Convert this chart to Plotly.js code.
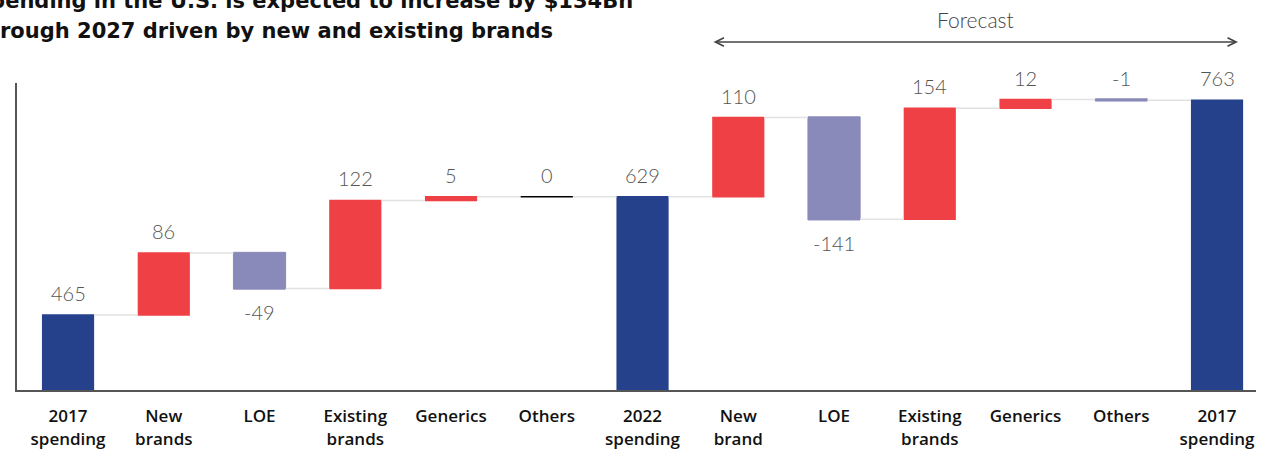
<!DOCTYPE html>
<html>
<head>
<meta charset="utf-8">
<script src="https://cdn.plot.ly/plotly-3.0.1.min.js"></script>
<style>
html,body{margin:0;padding:0;background:#fff;}
#chart{width:1278px;height:450px;}
</style>
</head>
<body>
<div id="chart"></div>
<script>
// ---- data ----
const categories = ["2017<br>spending", "New<br>brands", "LOE", "Existing<br>brands", "Generics", "Others",
                    "2022<br>spending", "New<br>brand", "LOE", "Existing<br>brands", "Generics", "Others", "2017<br>spending"];
const measures = ["absolute", "relative", "relative", "relative", "relative", "relative",
                  "total", "relative", "relative", "relative", "relative", "relative", "total"];
const values = [465, 86, -49, 122, 5, 0, 629, 110, -141, 154, 12, -1, 763];
const titleLines = ["Spending in the U.S. is expected to increase by $134Bn",
                    "through 2027 driven by new and existing brands"];
const forecastLabel = "Forecast";

// ---- layout constants ----
const W = 1278, H = 450;
const M = {l: 17, r: 22, t: 83, b: 60};
const plotW = W - M.l - M.r, plotH = H - M.t - M.b;
const px2paperX = px => (px - M.l) / plotW;
const px2paperY = py => (H - M.b - py) / plotH;
const barW = 0.545;

const xIdx = categories.map((_, i) => i);

// cumulative levels computed from data
let run = 0;
const tops = [], bottoms = [];
values.forEach((v, i) => {
  const m = measures[i];
  if (m === "absolute") { bottoms.push(0); run = v; tops.push(v); }
  else if (m === "total") { bottoms.push(0); tops.push(run); }
  else { const s = run; run += v; bottoms.push(Math.min(s, run)); tops.push(Math.max(s, run)); }
});

const labelFont = {family: "Lato, 'Open Sans', sans-serif", size: 20, color: "#555", weight: 300};
const annotations = [];
values.forEach((v, i) => {
  const below = v < 0 && Math.abs(v) >= 10;
  annotations.push({
    x: i, y: below ? bottoms[i] : tops[i], xref: "x", yref: "y",
    text: String(v), showarrow: false,
    yanchor: below ? "top" : "bottom", yshift: below ? -10 : 8,
    font: labelFont
  });
});

// title (cut at top-left like the reference)
const titleFont = {family: "'DejaVu Sans', sans-serif", size: 21, color: "#111", weight: 700};
annotations.push({xref: "paper", yref: "paper", x: px2paperX(-27), y: px2paperY(1), xanchor: "left", yanchor: "middle",
  text: titleLines[0], showarrow: false, font: titleFont});
annotations.push({xref: "paper", yref: "paper", x: px2paperX(-27), y: px2paperY(31), xanchor: "left", yanchor: "middle",
  text: titleLines[1], showarrow: false, font: titleFont});

// forecast label + double arrow
annotations.push({xref: "paper", yref: "paper", x: px2paperX(975), y: px2paperY(20), xanchor: "center", yanchor: "middle",
  text: forecastLabel, showarrow: false, font: {family: "Lato, 'Open Sans', sans-serif", size: 21, color: "#444", weight: 300}});
annotations.push({xref: "paper", yref: "paper", x: px2paperX(1238), y: px2paperY(42),
  ax: -(1238 - 712), ay: 0, axref: "pixel", ayref: "pixel", text: "", showarrow: true,
  arrowside: "end+start", arrowhead: 5, startarrowhead: 5, arrowsize: 1.3, startarrowsize: 1.3,
  arrowwidth: 1.3, arrowcolor: "#444"});

// zero-change marker (black line at the running level)
const shapes = [];
values.forEach((v, i) => {
  if (v === 0 && measures[i] === "relative") {
    shapes.push({type: "line", xref: "x", yref: "y", x0: i - barW / 2, x1: i + barW / 2,
      y0: tops[i], y1: tops[i], line: {color: "#000", width: 1.5}});
  }
});

const trace = {
  type: "waterfall",
  x: xIdx,
  y: values,
  measure: measures,
  width: barW,
  textinfo: "none",
  hoverinfo: "skip",
  increasing: {marker: {color: "#EF4145", line: {color: "#EF4145", width: 0}}},
  decreasing: {marker: {color: "#8989BA", line: {color: "#8989BA", width: 1}}},
  totals: {marker: {color: "#25418B", line: {color: "#25418B", width: 0}}},
  connector: {mode: "between", line: {color: "#E2E2E2", width: 1.5}}
};

const layout = {
  width: W, height: H,
  margin: M,
  paper_bgcolor: "#fff", plot_bgcolor: "#fff",
  showlegend: false,
  xaxis: {
    range: [-0.533, 12.407],
    tickmode: "array", tickvals: xIdx, ticktext: categories,
    showgrid: false, zeroline: false, ticks: "",
    ticklabelstandoff: 10,
    showline: true, linecolor: "#555", linewidth: 2,
    tickfont: {family: "'Open Sans', sans-serif", size: 17, color: "#111", weight: 600},
    fixedrange: true
  },
  yaxis: {
    range: [361, 787],
    showgrid: false, zeroline: false, showticklabels: false, ticks: "",
    showline: true, linecolor: "#555", linewidth: 2,
    fixedrange: true
  },
  annotations: annotations,
  shapes: shapes
};

Plotly.newPlot("chart", [trace], layout, {displayModeBar: false, staticPlot: true});
</script>
</body>
</html>
